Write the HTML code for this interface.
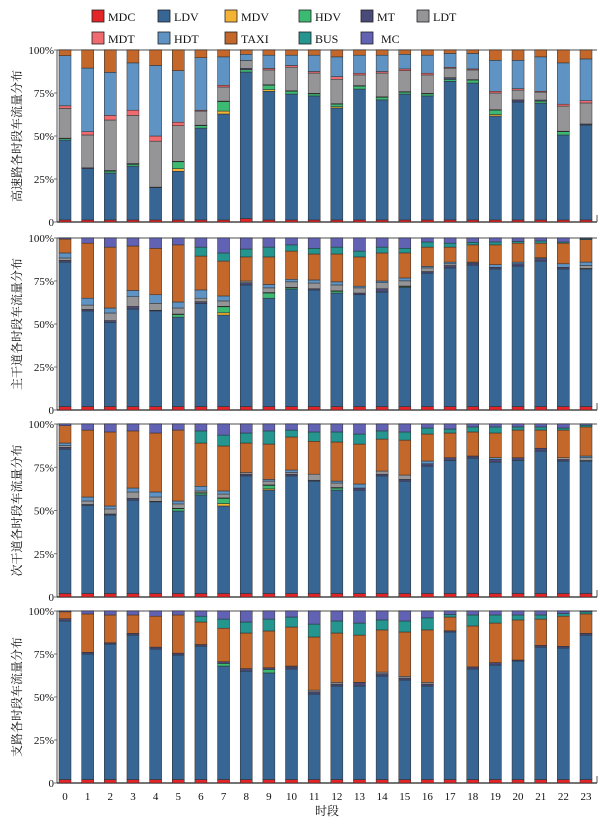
<!DOCTYPE html>
<html><head><meta charset="utf-8">
<style>
html,body{margin:0;padding:0;background:#fff;}
svg{display:block;font-family:"Liberation Serif","Noto Serif CJK SC",serif;}
</style></head>
<body>
<svg id="chart" width="604" height="822" viewBox="0 0 604 822" xmlns="http://www.w3.org/2000/svg"></svg>
<script>
const hours = ['0','1','2','3','4','5','6','7','8','9','10','11','12','13','14','15','16','17','18','19','20','21','22','23'];
const categories = ['MDC','LDV','MDV','HDV','MT','LDT','MDT','HDT','TAXI','BUS','MC'];
const yTickLabels = ['0','25%','50%','75%','100%'];
const panelTitles = ['高速路各时段车流量分布','主干道各时段车流量分布','次干道各时段车流量分布','支路各时段车流量分布'];

// Panel 1: highway
const p1MDC  = [1.2,1.2,1.2,1.2,1.2,1.2,1.2,1.2,2,1.2,1.2,1.2,1.2,1.2,1.2,1.2,1.2,1.2,1.2,1.2,1.2,1.2,1.2,1.2];
const p1LDV  = [46.5,29.8,27.3,31.3,18.8,28.3,53.4,61.6,85.2,74.8,73.2,72.1,65.1,76.1,69.8,73.2,72.1,80.2,79.6,60.4,68.6,68,49.4,55.2];
const p1MDV  = [0,0,0,0,0,1.5,0,1.7,0,1,0,0,0.7,0,0,0,0,0,0,0.9,0,0,0,0];
const p1HDV  = [0.8,0,1,1,0,4,1.4,5.5,1.3,2.5,1.6,1.2,1.5,1.7,1.5,1.1,1.2,1.1,1.7,2.5,0,1.1,1.9,0];
const p1MT   = [0.3,0.5,0.5,0.5,0.3,0.3,0.3,0.3,0.8,0.3,0.3,0.3,0.3,0.3,0.3,0.3,0.3,1,0.3,0.3,1.2,0.7,0.3,0.6];
const p1LDT  = [17.3,19.1,29.3,28,26.7,20.7,8.2,8.2,4.6,8.6,13.7,11.8,14.2,6.2,13.8,12.2,10.7,5.5,5.6,9.7,5.7,4.6,14.6,12.2];
const p1MDT  = [1.5,1.9,2.7,3,3,2,0.5,1,0,0.9,1,0.9,1.5,1,0.9,1,1,0.5,0.6,1,0.8,0.5,1.1,1.3];
const p1HDT  = [29.2,37,25,27.5,41,30,30.5,16.5,3.6,7.7,6,9.5,11.5,10.5,9.5,8.5,10.5,8,9,18,16.5,20,24,24.3];
const p1TAXI = [3.3,10.5,13,7.5,9,12,4.5,4,2.5,3,3,3,4,3,3,2.5,3,2,2,6,6,4,7.5,5.2];
const p1BUS  = [0,0,0,0,0,0,0,0,0,0,0,0,0,0,0,0,0,0,0,0,0,0,0,0];
const p1MC   = [0,0,0,0,0,0,0,0,0,0,0,0,0,0,0,0,0,0,0,0,0,0,0,0];

// Panel 2: main arterial
const p2MDC  = [2,2,2,2,2,2,2,2,2,2,2,2,2,2,2,2,2,2,2,2,2,2,2,2];
const p2LDV  = [84,55.6,49,57.3,55.6,52,60,53.2,70.7,63,68.3,67.8,66,65,66.6,69.5,77.6,80.6,82.3,80,81.7,84.6,80,80];
const p2MDV  = [0,0,0,0,0,0,0,1.3,0,0,0,0,0,0,0,0,0,0,0,0,0,0,0,0];
const p2HDV  = [0,0,0,0,0,1.5,0,3.5,0,3,0.7,0,1,0,0,0.5,0,0,0,0,0,0,0,0];
const p2MT   = [1,0.9,1,1.5,0.4,0.3,1,0.3,1.3,0.3,0.3,0.7,0.3,1,1.9,0.3,0.9,1.4,1.2,1,1.3,1.4,1,0.3];
const p2LDT  = [1.4,2.5,4.4,5.7,4,3.5,2,3.1,1,2.7,3.2,3.3,3.4,3,3.5,3,2.1,1,0.5,0,0,0,0,1.7];
const p2MDT  = [0,0,0,0,0,0,0,0,0,0,0,0,0,0,0,0,0,0,0,0,0,0,0,0];
const p2HDT  = [2.9,4,2.9,3.7,5,3.5,4.8,2.9,0,2,1.5,1.8,1.8,1,1,1.7,0.9,1,0,1.5,1,0.5,2,2];
const p2TAXI = [8.1,32,35.4,26.1,27,33.2,19.7,20.3,14,16,16.4,15.1,16.2,17,16.3,14.6,11.2,8.7,10,11.5,11,8.5,12,13];
const p2BUS  = [0,0,0,0,0,0,5.2,4.7,4.6,5.7,3.6,3.3,4,3.4,3.4,2.7,3,2.3,1.5,1.7,1,1.3,0.7,0.5];
const p2MC   = [0.6,3,5.3,4.7,6,4,5.3,8.7,6.4,5.3,4,6,5.3,7.6,5.3,6,2.3,3,2.5,2.3,2,1.7,2.3,0.5];

// Panel 3: secondary arterial
const p3MDC  = [2,2,2,2,2,2,2,2,2,2,2,2,2,2,2,2,2,2,2,2,2,2,2,2];
const p3LDV  = [83.5,51,45.4,54,53,47.7,57,50.6,68,59.8,68,65,59.8,59.8,68,65,73.7,77,78.3,76,77,82.4,76.6,76.6];
const p3MDV  = [0,0,0,0,0,0,0,1.4,0,0.7,0,0,0,0,0,0,0,0,0,0,0,0,0,0];
const p3HDV  = [0,0,0,0,0,1.3,1,3,0,2,0,0,1.2,0,0,0,0,0,0,0,0,0,0,0];
const p3MT   = [1,0.5,0.6,1,0.3,0.3,0.3,0.3,1,0.3,1,0.5,0.3,1.2,1,1,1.3,1.5,1.2,1.5,1.5,1.6,0.9,0.3];
const p3LDT  = [1,2,2.9,3.7,2.5,2.5,1,2.2,1,2.2,1,3.5,2.6,0,1.8,2.5,0,0,0,0,0,0,1,1.6];
const p3MDT  = [0,0,0,0,0,0,0,0,0,0,0,0,0,0,0,0,0,0,0,0,0,0,0,0];
const p3HDT  = [1.5,2.3,1.7,2.3,2.9,1.7,2.7,1.8,0,1,1.4,0,1.1,2.3,0,0,1.6,0,0,1,0,0,0,1];
const p3TAXI = [10,38.7,42.8,33,34.1,41,25,26,17,20.4,19.1,19,22.6,23.1,18.5,20.2,15.6,14.3,13.9,14.3,16,10.5,16,16.8];
const p3BUS  = [0,0,0,0,0,0,7,6.3,5.8,7.6,4,5.4,5.8,5.8,4.7,4.7,3.5,2.3,2.9,3.5,1.8,1.8,1.2,1];
const p3MC   = [1,3.5,4.6,4,5.2,3.5,4,6.4,5.2,4,3.5,4.6,4.6,5.8,4,4.6,2.3,2.9,1.7,1.7,1.7,1.7,2.3,0.7];

// Panel 4: branch road
const p4MDC  = [2,2,2,2,2,2,2,2,2,2,2,2,2,2,2,2,2,2,2,2,2,2,2,2];
const p4LDV  = [92.2,73,78.8,84,75.9,72.4,77.6,66,63,62,64.3,49.7,54.4,54.4,60.2,57.9,54.4,85.8,64.3,66.6,68.9,77,76.5,84];
const p4MDV  = [0,0,0,0,0,0,0,0,0,0,0,0,0,0,0,0,0,0,0,0,0,0,0,0];
const p4HDV  = [0,0,0,0,0,0,0,1.5,0,2,0,0,0,0,0,0,0,0,0,0,0,0,0,0];
const p4MT   = [1.3,1,0.7,1,1.1,1.1,0.9,1,1.5,1,1.2,1.3,1.1,2.1,1.3,1.1,1.1,0.7,1.2,1.4,0.6,1,1,1];
const p4LDT  = [0,0,0,0,0,0,0,0,0,0,0.5,1,1,0,1,1,1,0,0,0,0,0,0,0];
const p4MDT  = [0,0,0,0,0,0,0,0,0,0,0,0,0,0,0,0,0,0,0,0,0,0,0,0];
const p4HDT  = [0,0,0,0,0,0,0,0,0,0,0,0,0,0,0,0,0,0,0,0,0,0,0,0];
const p4TAXI = [4,22.3,16.2,10.7,18,22.2,13.1,19.5,20.7,21.4,22.7,30.9,28.7,27.5,24.5,25.8,30.5,8,23.8,23,23.3,15.3,17.5,11.3];
const p4BUS  = [0,0,0,0,0,0,3.4,5.3,6.4,6.9,5.8,7.5,7,7,5.8,6.4,7,1.5,6.4,4.7,2.9,2.4,1.5,1.2];
const p4MC   = [0.5,1.7,2.3,2.3,3,2.3,3,4.7,6.4,4.7,3.5,7.6,5.8,7,5.2,5.8,4,2,2.3,2.3,2.3,2.3,1.5,0.5];

const panelData = [
  [p1MDC,p1LDV,p1MDV,p1HDV,p1MT,p1LDT,p1MDT,p1HDT,p1TAXI,p1BUS,p1MC],
  [p2MDC,p2LDV,p2MDV,p2HDV,p2MT,p2LDT,p2MDT,p2HDT,p2TAXI,p2BUS,p2MC],
  [p3MDC,p3LDV,p3MDV,p3HDV,p3MT,p3LDT,p3MDT,p3HDT,p3TAXI,p3BUS,p3MC],
  [p4MDC,p4LDV,p4MDV,p4HDV,p4MT,p4LDT,p4MDT,p4HDT,p4TAXI,p4BUS,p4MC]
];

const colors = {MDC:'#e32428',LDV:'#376694',MDV:'#f5b335',HDV:'#3dba72',MT:'#4a4a78',LDT:'#959597',MDT:'#f06b6f',HDT:'#5e93c4',TAXI:'#c3672b',BUS:'#24958f',MC:'#6262b5'};

const NS='http://www.w3.org/2000/svg';
const svg=document.getElementById('chart');
function mk(tag,attrs,parent){const e=document.createElementNS(NS,tag);for(const k in attrs)e.setAttribute(k,attrs[k]);(parent||svg).appendChild(e);return e;}

// Legend
const legendPos=[[92,10],[158,10],[225,10],[299,10],[361,10],[417,10],[92,32],[158,32],[225,32],[299,32],[361,32]];
const legendOrder=['MDC','LDV','MDV','HDV','MT','LDT','MDT','HDT','TAXI','BUS','MC'];
const legend=mk('g',{});


legendOrder.forEach((c,i)=>{
  const g=mk('g',{},legend);
  
  
  mk('rect',{x:legendPos[i][0],y:legendPos[i][1],width:12,height:12,fill:colors[c],stroke:'#222','stroke-width':0.8},g);
  const t=mk('text',{x:legendPos[i][0]+16+(c==='MC'?4:0),y:legendPos[i][1]+11,'font-size':12,fill:'#111'},g);
  t.textContent=c;
});

// Axes helpers
const xLeft=57,xRight=597;
const x0=65,xStep=(586-65)/23,barW=12;
function xScale(i){return x0+i*xStep;}
const panels=[{top:50,bottom:222},{top:238,bottom:410},{top:424,bottom:597},{top:611,bottom:783}];

panels.forEach((p,pi)=>{
  const yScale=v=>p.bottom-(v/100)*(p.bottom-p.top);
  const g=mk('g',{});
  
  
  // frame
  mk('line',{x1:xLeft,y1:p.top,x2:xRight,y2:p.top,stroke:'#888','stroke-width':1.5},g);
  mk('line',{x1:xLeft,y1:p.top,x2:xLeft,y2:p.bottom,stroke:'#555','stroke-width':1},g);
  mk('line',{x1:xLeft,y1:p.bottom,x2:xRight,y2:p.bottom,stroke:'#222','stroke-width':1.2},g);
  mk('line',{x1:xRight,y1:p.bottom-7,x2:xRight,y2:p.bottom,stroke:'#555','stroke-width':1},g);
  // y ticks
  yTickLabels.forEach((lab,k)=>{
    const y=yScale(k*25);
    mk('line',{x1:xLeft-3,y1:y,x2:xLeft,y2:y,stroke:'#555','stroke-width':0.8},g);
    const t=mk('text',{x:xLeft-3,y:y+4,'font-size':11,'text-anchor':'end',fill:'#111'},g);
    
    
    t.textContent=lab;
  });
  // title
  const cy=(p.top+p.bottom)/2;
  const tt=mk('text',{x:0,y:0,'font-size':12,'text-anchor':'middle',fill:'#111',transform:`translate(21,${cy}) rotate(-90)`},g);
  
  
  tt.textContent=panelTitles[pi];
  // bars
  const data=panelData[pi];
  hours.forEach((h,i)=>{
    let total=0;data.forEach(arr=>total+=arr[i]);
    let cum=0;
    const bg=mk('g',{},g);
    
    
    data.forEach((arr,ci)=>{
      const v=arr[i]/total*100;
      if(v<=0)return;
      const y1=yScale(cum+v),y2=yScale(cum);
      const r=mk('rect',{x:xScale(i)-barW/2,y:y1,width:barW,height:Math.max(0.4,y2-y1),fill:colors[categories[ci]],stroke:'#2a2a2a','stroke-width':0.5},bg);
      
      
      cum+=v;
    });
  });
});

// x labels
hours.forEach((h,i)=>{
  const t=mk('text',{x:xScale(i),y:800,'font-size':11,'text-anchor':'middle',fill:'#111'});
  
  
  t.textContent=h;
});
const xt=mk('text',{x:327,y:815,'font-size':12,'text-anchor':'middle',fill:'#111'});


xt.textContent='时段';
</script>
</body></html>
